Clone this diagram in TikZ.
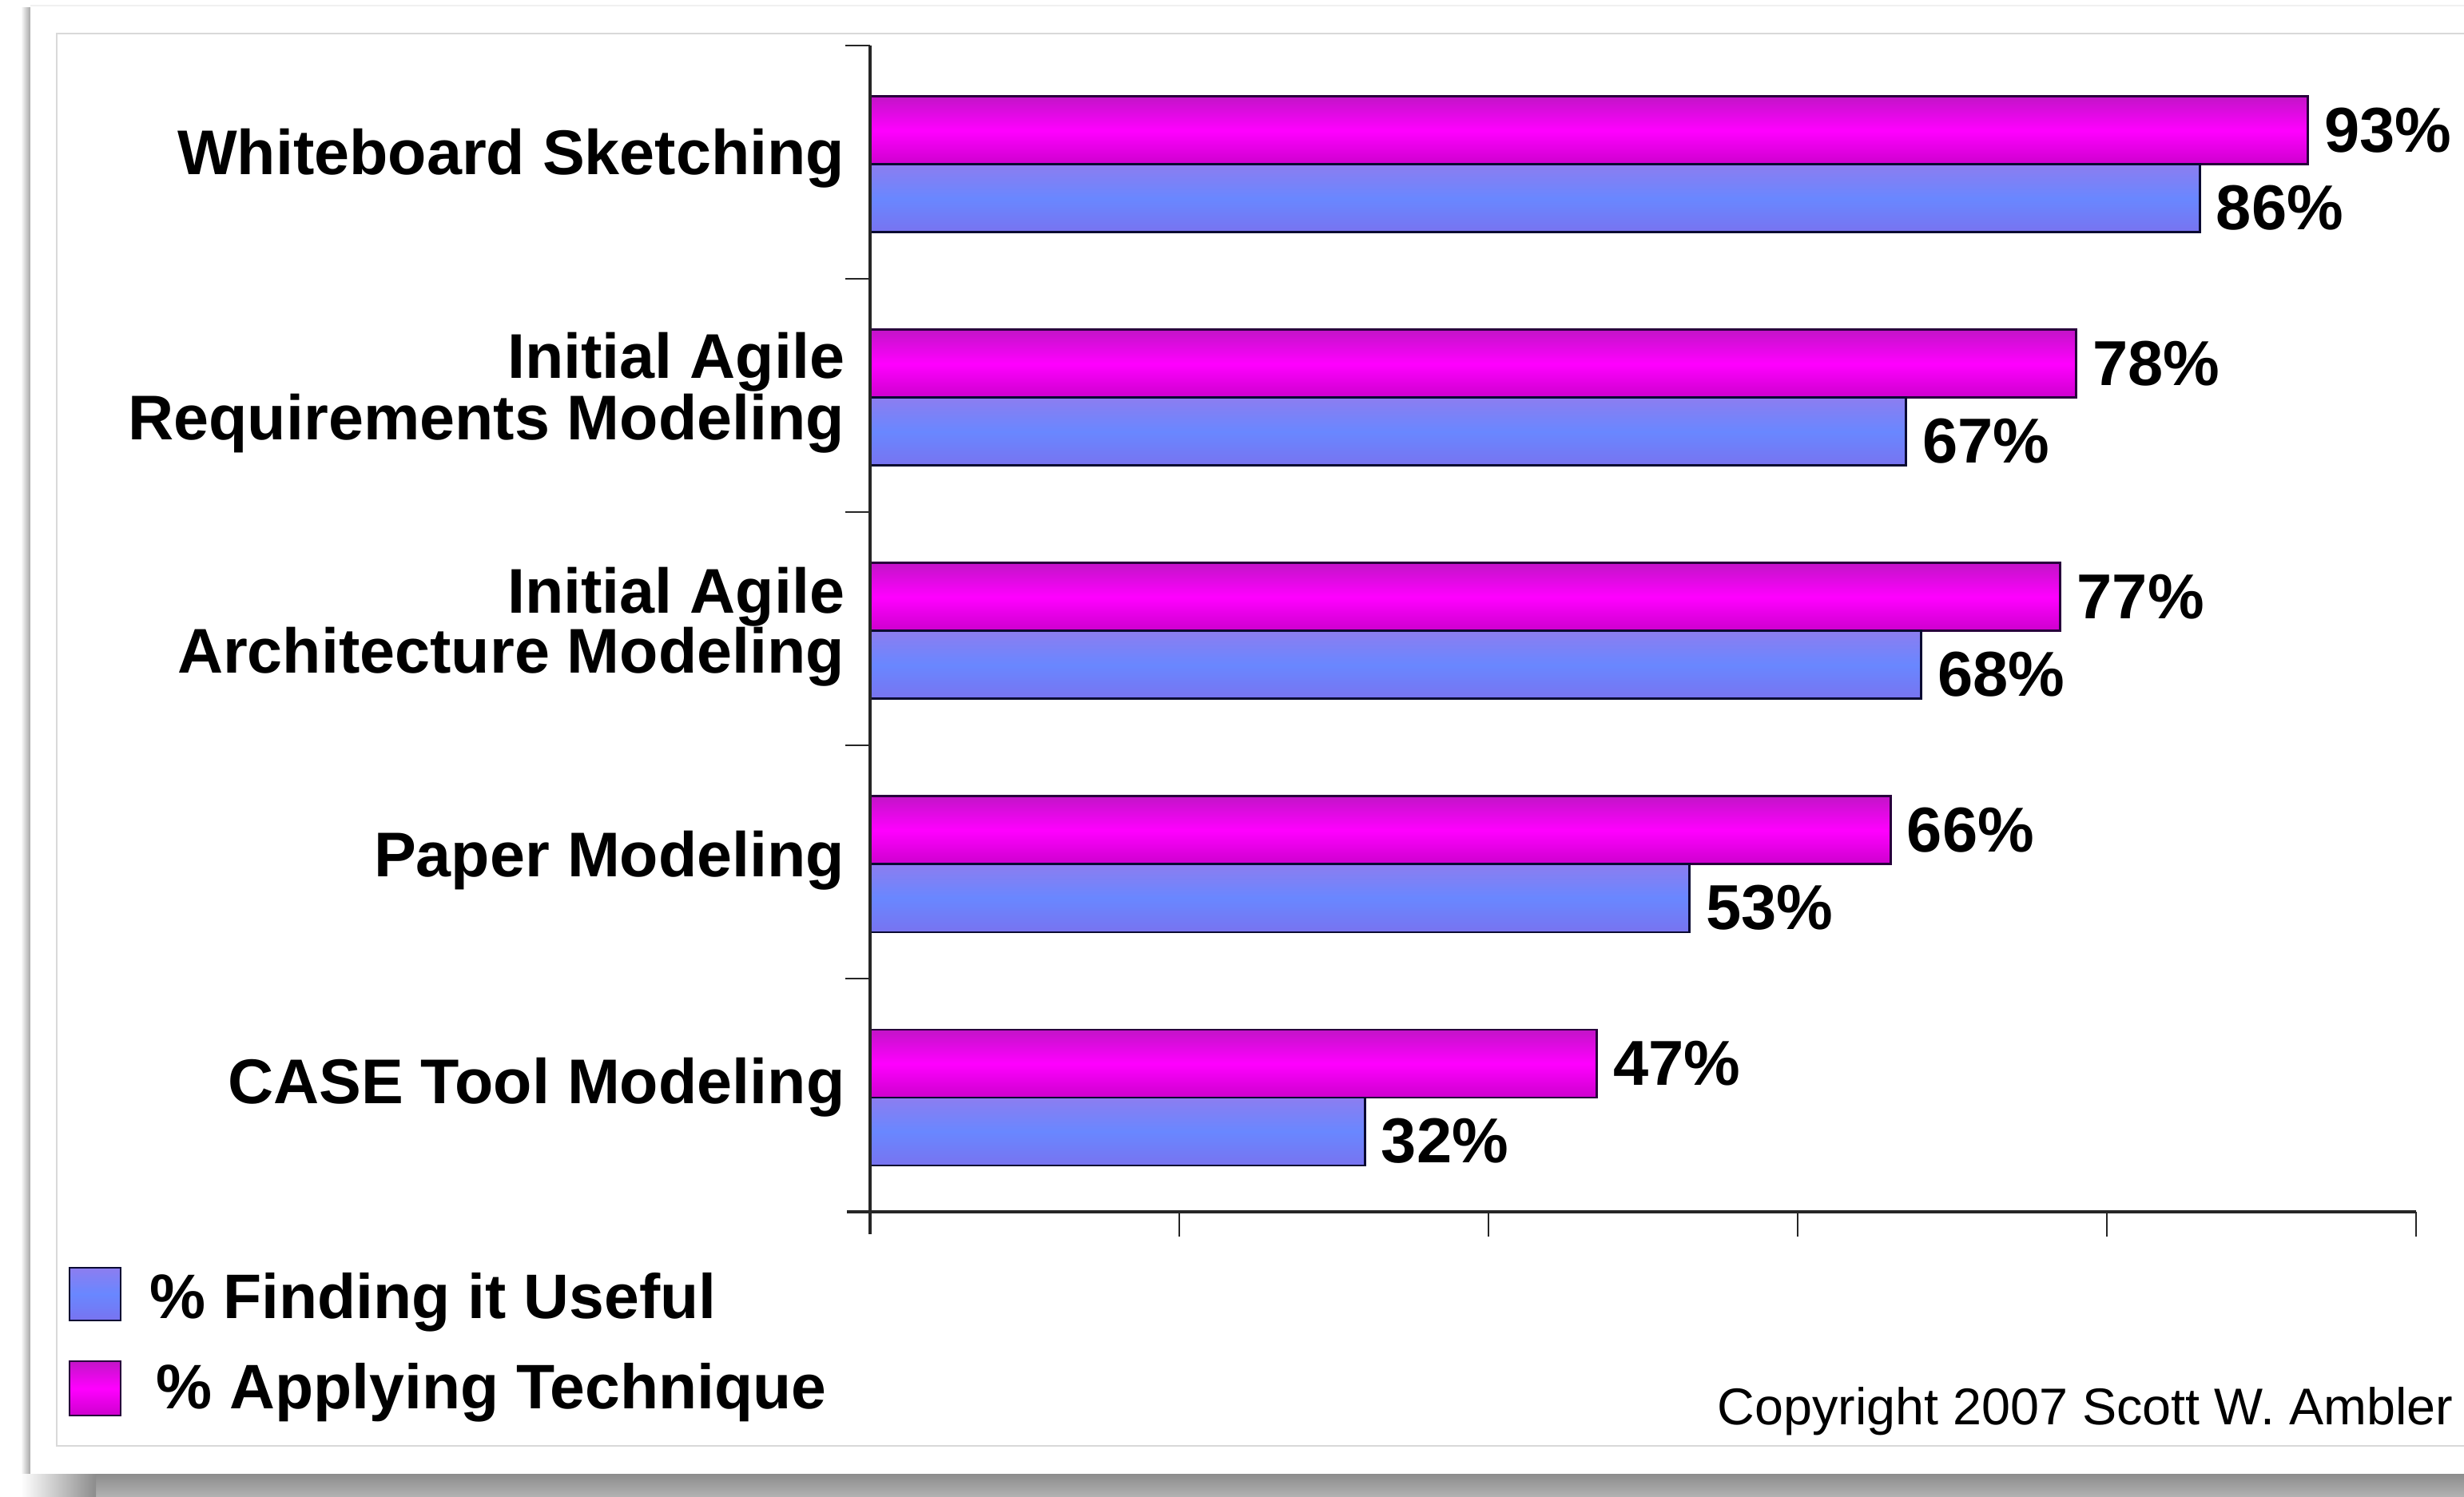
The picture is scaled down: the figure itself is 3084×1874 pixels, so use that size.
\documentclass[tikz,border=0pt]{standalone}
\usepackage{fontspec}
\setmainfont{Liberation Sans}
\begin{document}
\begin{tikzpicture}[x=0.01cm,y=-0.01cm,
  cat/.style={font=\fontsize{22.5}{26}\selectfont\bfseries, anchor=base east, inner sep=0pt},
  val/.style={font=\fontsize{22.6}{26}\selectfont\bfseries, anchor=base west, inner sep=0pt},
  leg/.style={font=\fontsize{22.4}{26}\selectfont\bfseries, anchor=base west, inner sep=0pt},
  copy/.style={font=\fontsize{18.4}{22}\selectfont, anchor=base west, inner sep=0pt},
  magbar/.style={draw={rgb,255:red,40;green,0;blue,60}, line width=0.85pt,
     top color={rgb,255:red,195;green,20;blue,200}, bottom color={rgb,255:red,205;green,0;blue,205},
     middle color={rgb,255:red,255;green,0;blue,255}},
  bluebar/.style={draw={rgb,255:red,10;green,10;blue,50}, line width=0.85pt,
     top color={rgb,255:red,140;green,125;blue,240}, bottom color={rgb,255:red,120;green,115;blue,240},
     middle color={rgb,255:red,105;green,135;blue,255}},
  axisline/.style={line width=1.1pt, black!85},
  tickline/.style={line width=0.8pt, black!85}]
\useasboundingbox (0,0) rectangle (3084,1874);
\fill[white] (0,0) rectangle (3084,1874);
% card shadow
\shade[left color=white, right color=black!35] (26,10) rectangle (38,1845);
\shade[top color=black!45, bottom color=black!30] (26,1845) rectangle (3084,1874);
\shade[left color=white, right color=black!45] (26,1845) rectangle (120,1874);
% card
\fill[white] (38,7) rectangle (3084,1845);
\draw[black!6, line width=0.6pt] (38,7) -- (3084,7);
% inner frame
\draw[black!15, line width=0.6pt] (3100,42) -- (71,42) -- (71,1810) -- (3100,1810);
% bars and value labels
\foreach \k/\m/\b in {0/93/86,1/78/67,2/77/68,3/66/53,4/47/32} {
  \pgfmathsetmacro\T{57+292*\k}
  \pgfmathsetmacro\xm{1089+19.35*\m}
  \pgfmathsetmacro\xb{1089+19.35*\b}
  \draw[magbar] (1089,\T+64) rectangle (\xm,\T+149);
  \draw[bluebar] (1089,\T+149) rectangle (\xb,\T+234);
  \node[val] (vm\k) at (\xm+20,\T+134) {\m\%};
  \node[val] (vb\k) at (\xb+20,\T+231) {\b\%};
}
% axes
\draw[axisline] (1089,57) -- (1089,1545);
\draw[axisline] (1060,1517) -- (3024,1517);
\foreach \k in {0,...,4} \draw[tickline] (1058,57+292*\k) -- (1089,57+292*\k);
\foreach \k in {1,...,5} \draw[tickline] (1089+387*\k,1517) -- (1089+387*\k,1548);
% category labels
\node[cat] (c0) at (1058,219) {Whiteboard Sketching};
\node[cat] (c1a) at (1058,474) {Initial Agile};
\node[cat] (c1b) at (1058,551) {Requirements Modeling};
\node[cat] (c2a) at (1058,768) {Initial Agile};
\node[cat] (c2b) at (1058,843) {Architecture Modeling};
\node[cat] (c3) at (1058,1098) {Paper Modeling};
\node[cat] (c4) at (1058,1382) {CASE Tool Modeling};
% legend
\draw[bluebar] (87,1587) rectangle (151,1653);
\draw[magbar] (87,1704) rectangle (151,1772);
\node[leg] (l1) at (187,1650) {\% Finding it Useful};
\node[leg] (l2) at (195,1763) {\% Applying Technique};
% copyright
\node[copy] (cr) at (2149,1783) {Copyright 2007 Scott W. Ambler};
\end{tikzpicture}
\end{document}
